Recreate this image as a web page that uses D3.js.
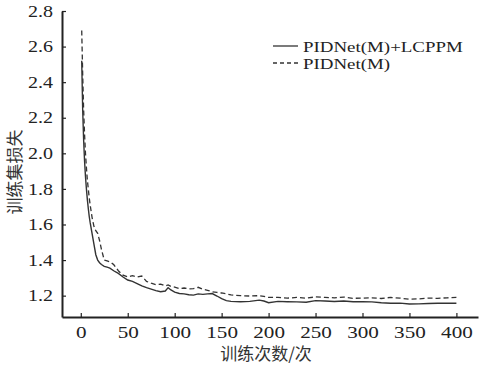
<!DOCTYPE html>
<html>
<head>
<meta charset="utf-8">
<script src="https://cdn.jsdelivr.net/npm/d3@7"></script>
<style>
  html, body { margin: 0; padding: 0; background: #fff; }
  svg { display: block; }
</style>
</head>
<body>
<div id="chart"></div>
<script>
// training epochs (x) and loss
const epochs = [1,2,3,4,5,6,7,8,9,10,12,14,16,18,20,22,25,28,31,35,40,45,50,55,60,65,70,75,80,85,90,93,96,100,105,110,115,120,125,130,135,140,145,150,155,160,170,180,190,195,200,210,220,230,240,250,260,270,280,290,300,310,320,330,340,350,360,370,380,390,400];
const lossLCPPM = [2.52,2.25,2.08,1.96,1.87,1.80,1.74,1.69,1.645,1.61,1.55,1.49,1.43,1.40,1.385,1.375,1.365,1.36,1.355,1.34,1.325,1.305,1.288,1.28,1.268,1.255,1.245,1.237,1.228,1.222,1.226,1.245,1.232,1.22,1.212,1.21,1.205,1.203,1.21,1.207,1.21,1.212,1.198,1.183,1.172,1.168,1.166,1.168,1.175,1.170,1.160,1.168,1.166,1.165,1.163,1.172,1.170,1.167,1.170,1.166,1.166,1.165,1.160,1.157,1.158,1.153,1.154,1.156,1.157,1.157,1.157];
const lossBase = [2.69,2.45,2.25,2.11,2.0,1.92,1.85,1.80,1.75,1.71,1.64,1.59,1.565,1.55,1.51,1.46,1.40,1.395,1.39,1.375,1.34,1.315,1.305,1.312,1.305,1.31,1.28,1.27,1.262,1.265,1.255,1.26,1.252,1.248,1.24,1.243,1.238,1.24,1.247,1.236,1.23,1.222,1.218,1.215,1.21,1.204,1.2,1.198,1.2,1.196,1.19,1.19,1.186,1.19,1.186,1.193,1.19,1.188,1.192,1.185,1.186,1.188,1.184,1.19,1.186,1.18,1.182,1.186,1.185,1.188,1.19];
const seriesNames = ['PIDNet(M)+LCPPM', 'PIDNet(M)'];
const xTicks = [0,50,100,150,200,250,300,350,400];
const yTicks = [1.2,1.4,1.6,1.8,2.0,2.2,2.4,2.6,2.8];

const W = 479, H = 368;
const ink = '#222';
const serif = '"Liberation Serif", "Times New Roman", serif';
const cjk = '"Noto Sans CJK SC", sans-serif';

const svg = d3.select('#chart').append('svg')
    .attr('width', W).attr('height', H);

const x = d3.scaleLinear().domain([-20, 423]).range([62, 478]);
const y = d3.scaleLinear().domain([1.08, 2.8]).range([317, 11]);

// stretch serif text horizontally to get the wide look of the original font
function widen(sel, k) {
    sel.each(function() {
        const len = this.getComputedTextLength();
        d3.select(this).attr('textLength', len * k).attr('lengthAdjust', 'spacingAndGlyphs');
    });
}

const xAxis = svg.append('g')
    .attr('transform', `translate(0,${y.range()[0]})`)
    .call(d3.axisBottom(x).tickValues(xTicks).tickSizeInner(-4).tickSizeOuter(0).tickPadding(10));
const yAxis = svg.append('g')
    .attr('transform', `translate(${x.range()[0]},0)`)
    .call(d3.axisLeft(y).tickValues(yTicks).tickFormat(d3.format('.1f')).tickSizeInner(-4).tickSizeOuter(0).tickPadding(9));

[xAxis, yAxis].forEach(a => {
    a.select('.domain').attr('stroke', ink).attr('stroke-width', 2);
    a.selectAll('.tick line').attr('stroke', ink).attr('stroke-width', 1.2);
    a.selectAll('.tick text').attr('fill', ink)
        .style('font-family', serif).style('font-size', '16px');
});
widen(xAxis.selectAll('.tick text'), 1.32);
widen(yAxis.selectAll('.tick text'), 1.25);

const line = d3.line()
    .x((d, i) => x(epochs[i]))
    .y(d => y(d));

svg.append('path')
    .datum(lossBase)
    .attr('fill', 'none')
    .attr('stroke', '#333')
    .attr('stroke-width', 1.3)
    .attr('stroke-dasharray', '5,3')
    .attr('d', line);

svg.append('path')
    .datum(lossLCPPM)
    .attr('fill', 'none')
    .attr('stroke', '#333')
    .attr('stroke-width', 1.4)
    .attr('d', line);

// axis titles
svg.append('text')
    .attr('x', 266).attr('y', 360)
    .attr('text-anchor', 'middle')
    .attr('fill', '#333')
    .style('font-family', cjk).style('font-size', '17px')
    .text('训练次数/次');

svg.append('text')
    .attr('transform', 'translate(21,172) rotate(-90)')
    .attr('text-anchor', 'middle')
    .attr('fill', '#333')
    .style('font-family', cjk).style('font-size', '17px')
    .text('训练集损失');

// legend
const legend = svg.append('g');
const legendRows = [
    { name: seriesNames[0], dash: null, y: 46 },
    { name: seriesNames[1], dash: '4,3', y: 63 }
];
legendRows.forEach(r => {
    legend.append('line')
        .attr('x1', 273).attr('x2', 298)
        .attr('y1', r.y).attr('y2', r.y)
        .attr('stroke', '#333').attr('stroke-width', 1.3)
        .attr('stroke-dasharray', r.dash);
    legend.append('text')
        .attr('x', 303).attr('y', r.y + 6)
        .attr('fill', ink)
        .style('font-family', serif).style('font-size', '15px')
        .text(r.name);
});
widen(legend.selectAll('text'), 1.26);
</script>
</body>
</html>
